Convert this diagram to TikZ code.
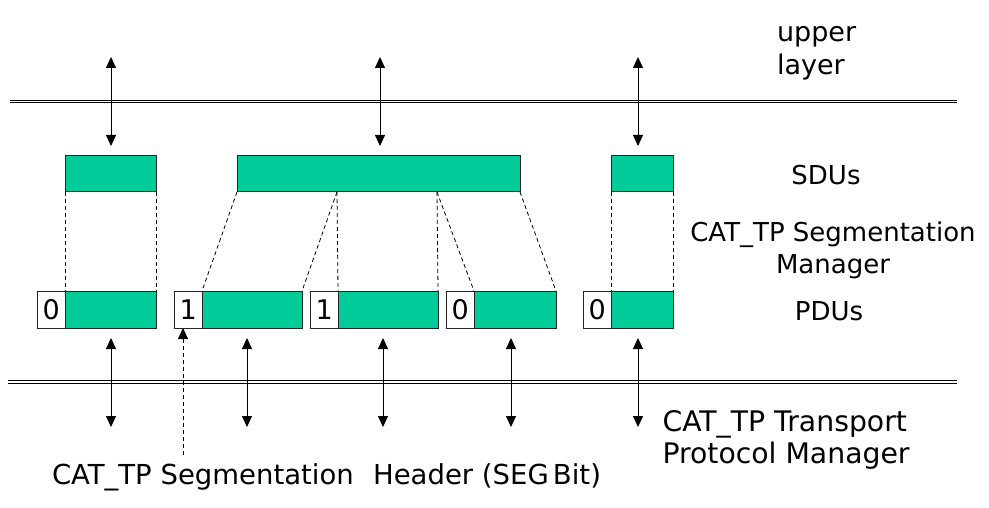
\documentclass[tikz,border=0pt]{standalone}
\usepackage{fontspec}
\setmainfont{DejaVu Sans}
\usetikzlibrary{arrows.meta}
\definecolor{segGreen}{RGB}{0,204,153}
\tikzset{
  every node/.style={inner sep=0pt, outer sep=0pt},
  pbox/.style={draw=black!85, line width=1pt, fill=segGreen, anchor=north west},
  hbox/.style={draw=black!85, line width=1pt, fill=white, anchor=north west,
     minimum width=27.5pt, minimum height=37pt, font=\fontsize{27}{27}\selectfont},
  rail/.style={double, double distance=1.8pt, line width=0.9pt},
  link/.style={dash pattern=on 4pt off 3pt, line width=0.8pt},
  both/.style={line width=1pt, {Triangle[width=10pt,length=11pt]}-{Triangle[width=10pt,length=11pt]}},
  lbl/.style={font=\fontsize{26}{32}\selectfont},
}
\begin{document}
\begin{tikzpicture}[x=1pt,y=-1pt]
\useasboundingbox (0,0) rectangle (989,508);
% rails
\coordinate (ur1) at (10,101.5); \coordinate (ur2) at (957,101.5);
\coordinate (lr1) at (8,381.7);  \coordinate (lr2) at (957,381.7);
\draw[rail] (ur1) -- (ur2);
\draw[rail] (lr1) -- (lr2);
% SDUs
\node[pbox, minimum width=91pt,  minimum height=36pt] (s1) at (65,156) {};
\node[pbox, minimum width=283pt, minimum height=36pt] (s2) at (237,156) {};
\node[pbox, minimum width=62pt,  minimum height=36pt] (s3) at (611,156) {};
% PDUs
\node[hbox] (h1) at (37.5,291) {0};
\node[pbox, minimum width=91pt,  minimum height=37pt] (p1) at (65,291) {};
\node[hbox] (h2) at (174.5,291) {1};
\node[pbox, minimum width=100pt, minimum height=37pt] (p2) at (202,291) {};
\node[hbox] (h3) at (310.5,291) {1};
\node[pbox, minimum width=100pt, minimum height=37pt] (p3) at (338,291) {};
\node[hbox] (h4) at (446.5,291) {0};
\node[pbox, minimum width=82pt,  minimum height=37pt] (p4) at (474,291) {};
\node[hbox] (h5) at (583.5,291) {0};
\node[pbox, minimum width=62pt,  minimum height=37pt] (p5) at (611,291) {};
% segmentation links
\coordinate (c1) at (337,192); \coordinate (c2) at (437,192);
\draw[link] (s1.south west) -- (p1.north west);
\draw[link] (s1.south east) -- (p1.north east);
\draw[link] (s2.south west) -- (p2.north west);
\draw[link] (c1) -- (p2.north east);
\draw[link] (c1) -- (p3.north west);
\draw[link] (c2) -- (p3.north east);
\draw[link] (c2) -- (p4.north west);
\draw[link] (s2.south east) -- (p4.north east);
\draw[link] (s3.south west) -- (p5.north west);
\draw[link] (s3.south east) -- (p5.north east);
% upper arrows
\foreach \n/\x in {1/111,2/380,3/638}{
  \coordinate (ua\n) at (\x,57); \coordinate (ub\n) at (\x,146);
  \draw[both] (ua\n) -- (ub\n);
}
% lower arrows
\foreach \n/\x in {1/111,2/247,3/383,4/511,5/638}{
  \coordinate (la\n) at (\x,338); \coordinate (lb\n) at (\x,427);
  \draw[both] (la\n) -- (lb\n);
}
% header pointer
\coordinate (hp) at (183,455);
\draw[link, -{Triangle[width=10pt,length=11pt]}] (hp) -- (h2.south west -| hp);
% labels
\node[font=\fontsize{27}{33}\selectfont, align=left, anchor=base west] (upl) at (777,75) {upper\\layer};
\node[lbl, anchor=base] (sdus) at (826,185) {SDUs};
\node[lbl, align=center, anchor=base] (segm) at (833,273) {CAT\_TP Segmentation\\Manager};
\node[lbl, anchor=base] (pdus) at (829,320) {PDUs};
\node[font=\fontsize{28.3}{31.7}\selectfont, align=left, anchor=base west] (tpm) at (662.5,463.3) {CAT\_TP Transport\\Protocol Manager};
\node[font=\fontsize{27.5}{31}\selectfont, anchor=base west] (hdr) at (52,484) {CAT\_TP Segmentation\hspace{0.7em}Header (SEG\hspace{0.15em}Bit)};
\end{tikzpicture}
\end{document}
